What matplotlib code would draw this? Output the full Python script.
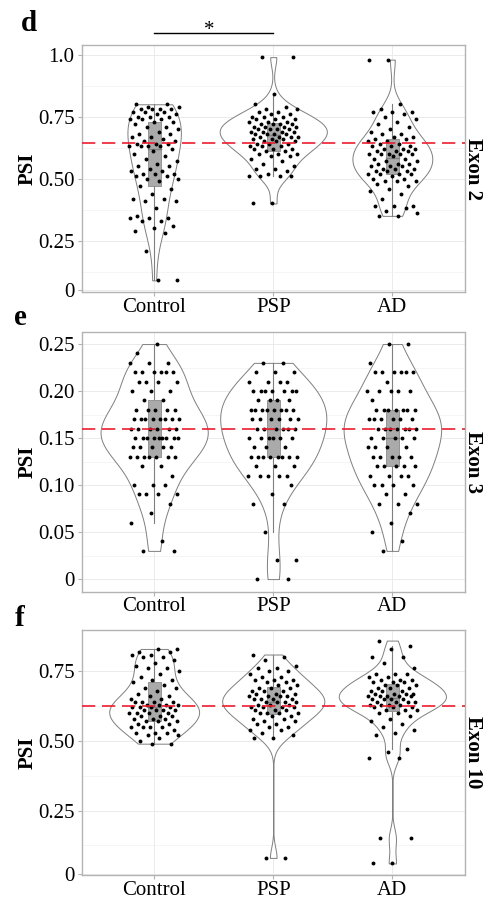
import numpy as np
import matplotlib
matplotlib.use("Agg")
import matplotlib.pyplot as plt

plt.rcParams['font.family'] = ['Liberation Serif', 'DejaVu Serif']

groups = ["Control", "PSP", "AD"]

# ---- Panel d : Exon 2 ----
d_control = [0.80, 0.80, 0.79, 0.79, 0.78, 0.78, 0.78, 0.78, 0.77, 0.77, 0.77, 0.76, 0.76,
             0.75, 0.75, 0.75, 0.74, 0.74, 0.74, 0.73, 0.73,
             0.72, 0.71, 0.71, 0.70, 0.69, 0.68, 0.68, 0.67, 0.67, 0.66, 0.65, 0.65, 0.64, 0.64,
             0.64, 0.63, 0.63, 0.63, 0.63,
             0.62, 0.61, 0.60, 0.59, 0.58, 0.57, 0.56, 0.55, 0.55, 0.54, 0.53, 0.53, 0.52, 0.52,
             0.52, 0.51, 0.51, 0.50, 0.50, 0.49,
             0.47, 0.46, 0.44, 0.42, 0.42, 0.41, 0.41, 0.38, 0.35, 0.34, 0.34, 0.34, 0.33, 0.33,
             0.31, 0.30, 0.29, 0.28, 0.21, 0.09, 0.09]
d_psp = [0.99, 0.99, 0.84, 0.80, 0.79, 0.78, 0.78, 0.77, 0.77, 0.76, 0.76, 0.75, 0.75, 0.75,
         0.74, 0.74, 0.74, 0.73, 0.73, 0.73, 0.72, 0.72, 0.72, 0.72,
         0.71, 0.71, 0.71, 0.71, 0.70, 0.70, 0.70, 0.70, 0.69, 0.69, 0.69, 0.69, 0.68, 0.68,
         0.68, 0.68, 0.67, 0.67, 0.67, 0.67,
         0.66, 0.66, 0.66, 0.65, 0.65, 0.65, 0.64, 0.64, 0.64, 0.63, 0.63, 0.63, 0.62, 0.62, 0.62,
         0.61, 0.61, 0.60, 0.60, 0.60, 0.59, 0.59, 0.58, 0.57, 0.56, 0.55, 0.54, 0.54, 0.53,
         0.52, 0.51, 0.51, 0.51, 0.51, 0.40, 0.40]
d_ad = [0.98, 0.98, 0.80, 0.78, 0.77, 0.77, 0.77, 0.76, 0.75, 0.74, 0.73, 0.72, 0.71, 0.70,
        0.69, 0.68, 0.68, 0.67, 0.67, 0.66,
        0.66, 0.65, 0.65, 0.64, 0.64, 0.63, 0.63, 0.63, 0.62, 0.62, 0.62, 0.61, 0.61, 0.61,
        0.60, 0.60, 0.60, 0.60, 0.60, 0.59,
        0.58, 0.58, 0.57, 0.57, 0.56, 0.56, 0.56, 0.55, 0.55, 0.55, 0.54, 0.54, 0.54, 0.53,
        0.53, 0.53, 0.52, 0.52, 0.52, 0.52,
        0.51, 0.50, 0.50, 0.49, 0.49, 0.49, 0.48, 0.47, 0.46, 0.45, 0.44, 0.42, 0.39, 0.39,
        0.39, 0.38, 0.37, 0.36, 0.35, 0.35]

# ---- Panel e : Exon 3 ----
e_control = [0.25, 0.24, 0.23, 0.23, 0.23, 0.22, 0.22, 0.22, 0.22, 0.22, 0.22,
             0.21, 0.21, 0.21, 0.21, 0.20, 0.20, 0.20, 0.19, 0.19,
             0.18, 0.18, 0.18, 0.18, 0.18,
             0.17, 0.17, 0.17, 0.17, 0.17, 0.17, 0.17, 0.17,
             0.16, 0.16, 0.16, 0.16, 0.16, 0.16,
             0.15, 0.15, 0.15, 0.15, 0.15, 0.15, 0.15, 0.15, 0.15,
             0.14, 0.14, 0.14, 0.14, 0.14,
             0.13, 0.13, 0.13, 0.13, 0.13, 0.13, 0.13,
             0.12, 0.12, 0.11, 0.10, 0.10, 0.10, 0.09, 0.09, 0.09, 0.09,
             0.08, 0.07, 0.06, 0.04, 0.03, 0.03]
e_psp = [0.23, 0.23, 0.22, 0.22, 0.22, 0.21, 0.21, 0.21, 0.21,
         0.20, 0.20, 0.20, 0.20, 0.20, 0.20, 0.20, 0.19, 0.19, 0.19, 0.19,
         0.18, 0.18, 0.18, 0.18, 0.18, 0.18, 0.18, 0.18,
         0.17, 0.17, 0.17, 0.17, 0.17, 0.17,
         0.16, 0.16, 0.16, 0.16, 0.16, 0.16,
         0.15, 0.15, 0.15, 0.15, 0.15, 0.15, 0.14, 0.14, 0.14,
         0.13, 0.13, 0.13, 0.13, 0.13, 0.13, 0.13, 0.13,
         0.12, 0.12, 0.12, 0.11, 0.11, 0.11, 0.11, 0.11,
         0.10, 0.09, 0.08, 0.08, 0.05, 0.02, 0.02, 0.00, 0.00]
e_ad = [0.25, 0.25, 0.23, 0.22, 0.22, 0.22, 0.22, 0.22, 0.22, 0.21,
        0.20, 0.20, 0.20, 0.20, 0.20, 0.19,
        0.18, 0.18, 0.18, 0.18, 0.18, 0.18, 0.18,
        0.17, 0.17, 0.17, 0.17, 0.17, 0.17,
        0.16, 0.16, 0.16, 0.16, 0.16, 0.16, 0.16,
        0.15, 0.15, 0.15, 0.15, 0.15, 0.14, 0.14, 0.14, 0.14,
        0.13, 0.13, 0.13, 0.13, 0.13,
        0.12, 0.12, 0.12, 0.12, 0.12, 0.11, 0.11, 0.11, 0.11,
        0.10, 0.10, 0.10, 0.10, 0.09, 0.09,
        0.08, 0.08, 0.08, 0.07, 0.06, 0.05, 0.04, 0.03]

# ---- Panel f : Exon 10 ----
f_control = [0.83, 0.83, 0.82, 0.82, 0.81, 0.81, 0.80, 0.80, 0.79, 0.78, 0.77, 0.76, 0.76,
             0.75, 0.74, 0.73, 0.72, 0.72,
             0.71, 0.70, 0.69, 0.69, 0.68, 0.67, 0.66, 0.66, 0.65, 0.65, 0.64, 0.64, 0.64,
             0.64, 0.63, 0.63, 0.63, 0.63,
             0.62, 0.62, 0.62, 0.62, 0.61, 0.61, 0.61, 0.61, 0.60, 0.60, 0.60, 0.60, 0.59,
             0.59, 0.59, 0.58, 0.58, 0.58,
             0.57, 0.57, 0.57, 0.56, 0.56, 0.55, 0.55, 0.55, 0.55, 0.54, 0.53, 0.53, 0.53,
             0.52, 0.52, 0.51, 0.50, 0.49, 0.49]
f_psp = [0.81, 0.80, 0.79, 0.77, 0.76, 0.76, 0.75, 0.75, 0.74, 0.73, 0.73, 0.72, 0.72, 0.72,
         0.71, 0.71, 0.70, 0.70, 0.69,
         0.69, 0.69, 0.68, 0.68, 0.68, 0.67, 0.67, 0.67, 0.66, 0.66, 0.66, 0.66, 0.65, 0.65,
         0.65, 0.65, 0.64, 0.64,
         0.64, 0.64, 0.63, 0.63, 0.63, 0.62, 0.62, 0.62, 0.62, 0.61, 0.61, 0.61, 0.60, 0.60,
         0.60, 0.60, 0.59, 0.59,
         0.58, 0.58, 0.57, 0.57, 0.56, 0.56, 0.55, 0.55, 0.54, 0.54, 0.53, 0.52, 0.51, 0.51,
         0.08, 0.08]
f_ad = [0.86, 0.84, 0.83, 0.80, 0.80, 0.78, 0.76, 0.74, 0.74, 0.74, 0.73, 0.73, 0.72, 0.72,
        0.72, 0.71, 0.71, 0.71,
        0.70, 0.70, 0.70, 0.69, 0.69, 0.69, 0.68, 0.68, 0.68, 0.67, 0.67, 0.67, 0.67, 0.66,
        0.66, 0.66, 0.66, 0.66,
        0.65, 0.65, 0.65, 0.65, 0.64, 0.64, 0.64, 0.64, 0.63, 0.63, 0.63, 0.63, 0.62, 0.62,
        0.62, 0.61, 0.61, 0.61,
        0.60, 0.60, 0.59, 0.58, 0.57, 0.56, 0.55, 0.54, 0.53, 0.52, 0.47, 0.46, 0.44, 0.44,
        0.15, 0.15, 0.06, 0.06]

ref_lines = [0.645, 0.16, 0.625]
exon_labels = ["Exon 2", "Exon 3", "Exon 10"]
panel_letters = ["d", "e", "f"]
ytick_vals = [[0.052, 0.25, 0.50, 0.75, 1.0],
              [0, 0.05, 0.10, 0.15, 0.20, 0.25],
              [0.022, 0.25, 0.50, 0.75]]
ytick_labels = [["0", "0.25", "0.50", "0.75", "1.0"],
                ["0", "0.05", "0.10", "0.15", "0.20", "0.25"],
                ["0", "0.25", "0.50", "0.75"]]
yminor = [[0.125, 0.375, 0.625, 0.875],
          [0.025, 0.075, 0.125, 0.175, 0.225],
          [0.125, 0.375, 0.625]]
ylims = [(0.043, 1.039), (-0.0132, 0.2623), (0.0186, 0.898)]

panels = [[d_control, d_psp, d_ad], [e_control, e_psp, e_ad], [f_control, f_psp, f_ad]]

W, H = 486, 900
fig = plt.figure(figsize=(W / 100, H / 100), dpi=100)
fig.patch.set_facecolor("white")

boxes_px = [(45, 292), (332.5, 591.5), (630, 875)]
left_px, right_px = 81.5, 465
BW_ADJUST = 1.3


def nrd0(x):
    x = np.asarray(x, float)
    sd = np.std(x, ddof=1)
    iqr = np.subtract(*np.percentile(x, [75, 25]))
    lo = min(sd, iqr / 1.34) if iqr > 0 else sd
    return 0.9 * lo * len(x) ** (-0.2)


def kde(x, grid):
    x = np.asarray(x, float)
    bw = nrd0(x) * BW_ADJUST
    z = (grid[:, None] - x[None, :]) / bw
    return np.exp(-0.5 * z ** 2).sum(axis=1) / (len(x) * bw * np.sqrt(2 * np.pi))


grey_line = "#7F7F7F"
for k, (top, bot) in enumerate(boxes_px):
    ax = fig.add_axes([left_px / W, 1 - bot / H, (right_px - left_px) / W, (bot - top) / H])
    data = panels[k]
    ax.set_xlim(0.39, 3.61)
    ax.set_ylim(*ylims[k])

    # violins (area scaling within panel)
    grids, dens = [], []
    for vals in data:
        g = np.linspace(min(vals), max(vals), 512)
        grids.append(g)
        dens.append(kde(vals, g))
    dmax = max(d.max() for d in dens)
    for i, vals in enumerate(data):
        xc = i + 1
        hw = 0.45 * dens[i] / dmax
        ax.fill_betweenx(grids[i], xc - hw, xc + hw, facecolor="white",
                         edgecolor=grey_line, linewidth=0.7, zorder=2)

    # boxplots
    for i, vals in enumerate(data):
        xc = i + 1
        v = np.asarray(vals, float)
        q1, med, q3 = np.percentile(v, [25, 50, 75])
        iqr = q3 - q1
        lo = v[v >= q1 - 1.5 * iqr].min()
        hi = v[v <= q3 + 1.5 * iqr].max()
        ax.plot([xc, xc], [lo, q1], color=grey_line, lw=0.8, zorder=3)
        ax.plot([xc, xc], [q3, hi], color=grey_line, lw=0.8, zorder=3)
        bw_ = 0.055
        ax.add_patch(plt.Rectangle((xc - bw_, q1), 2 * bw_, q3 - q1, facecolor="#AAAAAA",
                                   edgecolor="#8A8A8A", linewidth=0.6, zorder=3))
        ax.plot([xc - bw_, xc + bw_], [med, med], color="#808080", lw=1.0, zorder=3)

    # jittered points (deterministic low-discrepancy offsets)
    for i, vals in enumerate(data):
        n = len(vals)
        offs = ((np.arange(n) * 0.6180339887 + 0.137 * (i + 1 + 3 * k)) % 1.0 - 0.5) * 0.42
        ax.plot(np.full(n, i + 1.0) + offs, vals, "o", color="black", ms=2.8,
                mec="none", zorder=4)

    ax.axhline(ref_lines[k], color="#EE1C2E", lw=1.2, ls=(0, (8, 4)), zorder=5)

    # axes styling (ggplot theme_light-like)
    ax.set_xticks([1, 2, 3])
    ax.set_xticklabels(groups)
    ax.set_yticks(ytick_vals[k])
    ax.set_yticklabels(ytick_labels[k])
    ax.set_yticks(yminor[k], minor=True)
    ax.tick_params(axis="both", which="major", labelsize=15, color="#B3B3B3",
                   labelcolor="black", length=3, width=0.8, pad=2)
    ax.tick_params(axis="x", which="major", pad=1)
    ax.tick_params(axis="y", which="minor", length=0)
    ax.grid(True, which="major", color="#EBEBEB", lw=0.7, zorder=0)
    ax.grid(True, which="minor", axis="y", color="#F2F2F2", lw=0.5, zorder=0)
    ax.set_axisbelow(True)
    for sp in ax.spines.values():
        sp.set_color("#B3B3B3")
        sp.set_linewidth(1.0)

    yc = 1 - (top + bot) / 2 / H
    fig.text(28 / W, yc, "PSI", rotation=90, ha="center", va="center",
             fontsize=15, fontweight="bold")
    fig.text(473 / W, yc, exon_labels[k], rotation=-90, ha="center", va="center",
             fontsize=15, fontweight="bold")

    if k == 0:
        ax.plot([1, 2], [1.086, 1.086], color="black", lw=1.0, clip_on=False)
        ax.text(1.46, 1.098, "*", ha="center", va="center", fontsize=15, clip_on=False)

letter_pos = [(21, 31), (14, 325), (15, 626)]
for (lx, ly), lt in zip(letter_pos, panel_letters):
    fig.text(lx / W, 1 - ly / H, lt, fontsize=21, fontweight="bold", ha="left",
             va="baseline")

fig.savefig("out.png", dpi=100)
